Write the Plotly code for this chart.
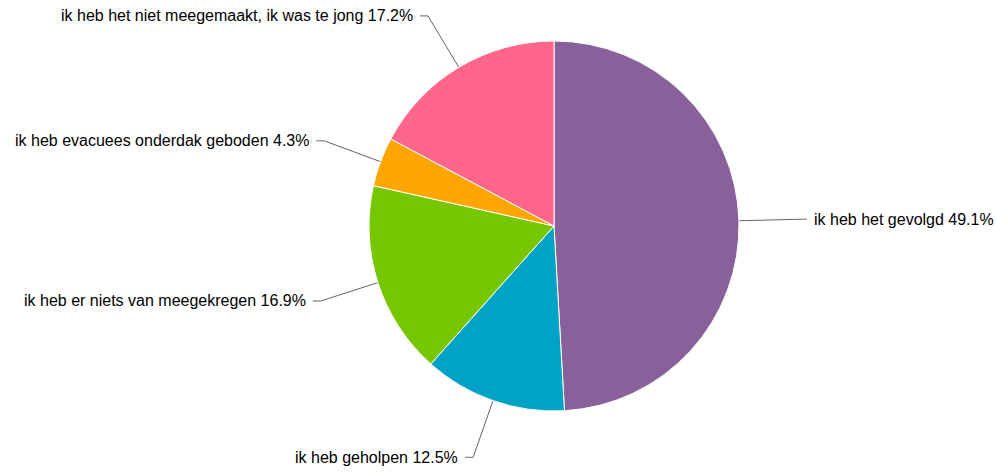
import math
import plotly.graph_objects as go

labels = [
    "ik heb het gevolgd",
    "ik heb geholpen",
    "ik heb er niets van meegekregen",
    "ik heb evacuees onderdak geboden",
    "ik heb het niet meegemaakt, ik was te jong",
]
values = [49.1, 12.5, 16.9, 4.3, 17.2]
colors = ["#88609A", "#00A3C5", "#77C700", "#FFA600", "#FF6689"]

W, H = 996, 472
cx, cy, r = 554, 226, 185
R = 245  # label circle radius

fig = go.Figure()
fig.add_trace(go.Pie(
    labels=labels, values=values, sort=False, direction="clockwise", rotation=0,
    marker=dict(colors=colors, line=dict(color="white", width=1)),
    textinfo="none", showlegend=False,
    domain=dict(x=[(cx - r) / W, (cx + r) / W], y=[(H - (cy + r)) / H, (H - (cy - r)) / H]),
))

total = sum(values)
cum = 0
annotations = []
for lab, v in zip(labels, values):
    mid = (cum + v / 2) / total * 2 * math.pi
    cum += v
    s, c = math.sin(mid), math.cos(mid)
    p0 = (cx + r * s, cy - r * c)
    p1 = (cx + R * s, cy - R * c)
    side = 1 if s >= 0 else -1
    p2 = (p1[0] + side * 8, p1[1])
    fig.add_trace(go.Scatter(
        x=[p0[0], p1[0], p2[0]], y=[p0[1], p1[1], p2[1]], mode="lines",
        line=dict(color="#666666", width=1), hoverinfo="skip", showlegend=False,
    ))
    annotations.append(dict(
        x=p2[0] + side * 5, y=p2[1], xref="x", yref="y",
        text=f"{lab} {v}%", showarrow=False,
        xanchor="left" if side > 0 else "right", yanchor="middle",
        font=dict(family="Liberation Sans, Arial, sans-serif", size=16, color="#000000"),
    ))

fig.update_layout(
    width=W, height=H, margin=dict(l=0, r=0, t=0, b=0),
    paper_bgcolor="white", plot_bgcolor="rgba(0,0,0,0)",
    xaxis=dict(range=[0, W], visible=False, fixedrange=True, domain=[0, 1]),
    yaxis=dict(range=[H, 0], visible=False, fixedrange=True, domain=[0, 1]),
    annotations=annotations,
)
fig.write_html(
    "out.html",
    config={"displayModeBar": False},
    post_script="document.body.style.margin='0';document.body.style.overflow='hidden';",
)
